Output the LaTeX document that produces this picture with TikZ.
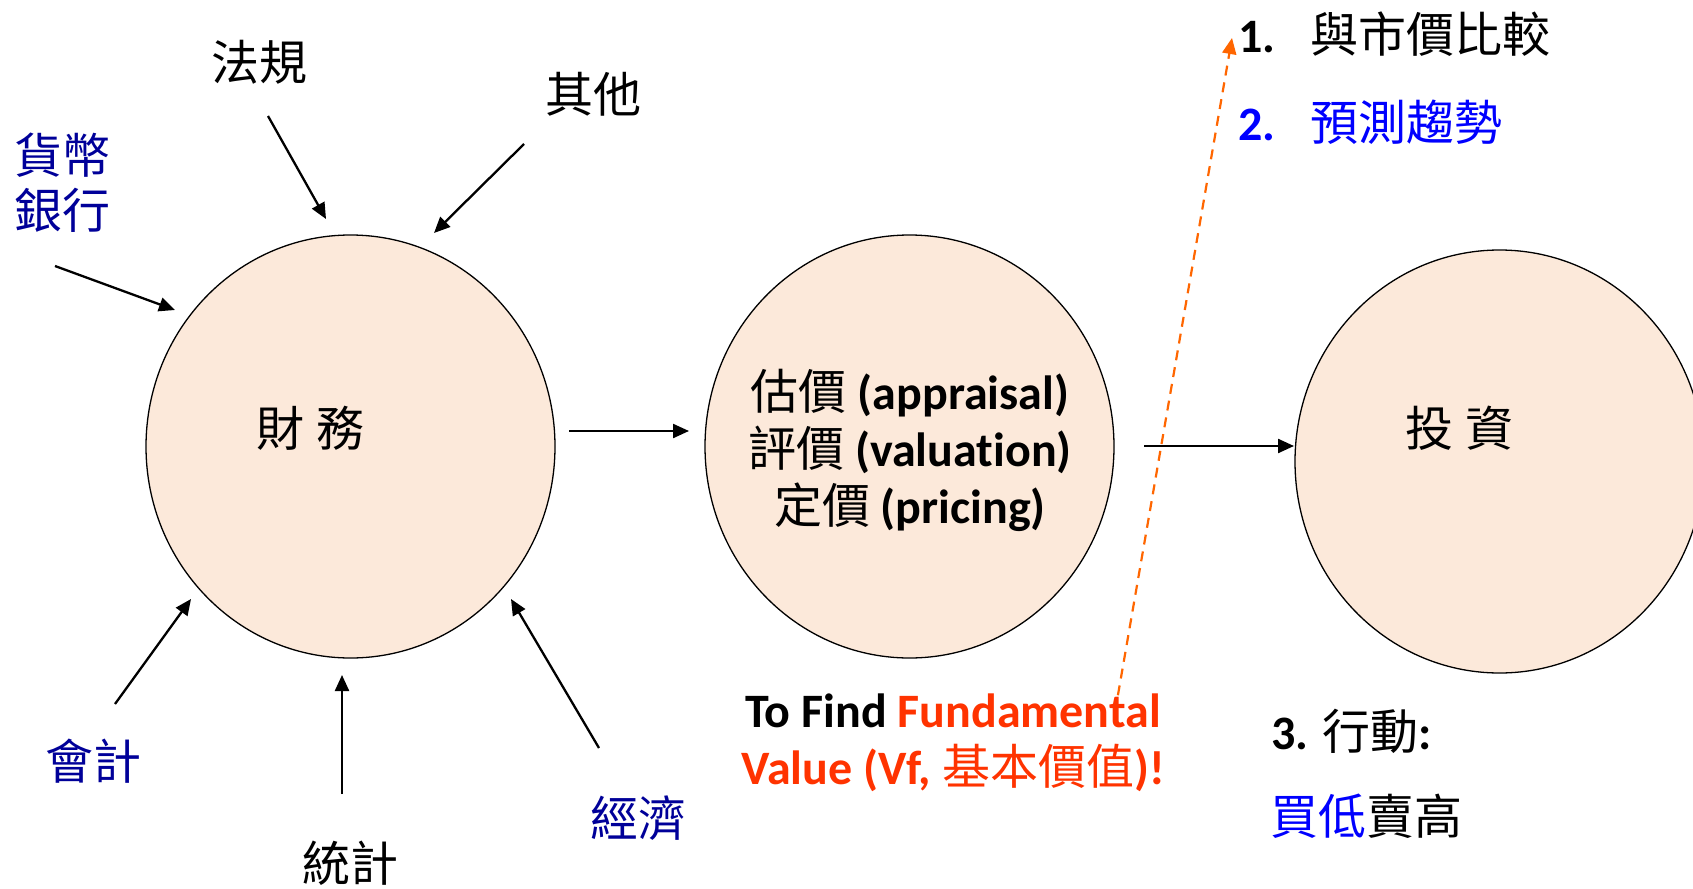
\documentclass[tikz,border=0pt]{standalone}
\usepackage{fontspec}
\setmainfont{Carlito}[Ligatures=NoCommon]
\newfontfamily\cjk{Noto Sans CJK TC}
\usetikzlibrary{arrows.meta,shapes.geometric}
\definecolor{peach}{RGB}{252,233,218}
\definecolor{navy}{RGB}{0,0,153}
\definecolor{vblue}{RGB}{0,0,255}
\definecolor{ored}{RGB}{255,51,0}
\definecolor{dorange}{RGB}{255,102,0}
\begin{document}
\begin{tikzpicture}[x=1pt,y=-1pt,
  bubble/.style={ellipse,draw=black,line width=1.3pt,fill=peach,minimum width=409pt,minimum height=423pt,inner sep=0pt},
  txt/.style={inner sep=0pt,anchor=base west,font=\fontsize{48}{57}\selectfont},
  blocktxt/.style={inner sep=0pt,align=center,font=\fontsize{48}{57}\selectfont},
  feed/.style={draw=black,line width=2.3pt,-{Triangle[length=16pt,width=14pt]}},
  hint/.style={draw=dorange,line width=2.2pt,dash pattern=on 10pt off 7pt,-{Triangle[length=16pt,width=14pt]}}
]
\clip (0,0) rectangle (1693,888);
\fill[white] (0,0) rectangle (1693,888);

% bubbles
\node[bubble] (c1) at (350.5,446.5) {};
\node[bubble] (c2) at (909.5,446.5) {};
\node[bubble] (c3) at (1499.5,461.5) {};

% texts in bubbles
\node[txt] (t1) at (256,446) {\cjk 財\hspace{12pt}務};
\node[txt] (t3) at (1405,446) {\cjk 投\hspace{12pt}資};
\node[blocktxt] (t2) at (910,450) {{\cjk 估價} \textbf{(appraisal)}\\{\cjk 評價} \textbf{(valuation)}\\{\cjk 定價} \textbf{(pricing)}};

% surrounding labels
\node[txt] (fagui) at (211,81) {\cjk 法規};
\node[txt] (qita) at (545,113) {\cjk 其他};
\node[txt,text=navy,align=left,anchor=north west] (huobi) at (14,133) {\cjk 貨幣\\[-2pt]\cjk 銀行};
\node[txt,text=navy] (kuaiji) at (45,779) {\cjk 會計};
\node[txt] (tongji) at (302,881) {\cjk 統計};
\node[txt,text=navy] (jingji) at (590,836) {\cjk 經濟};

% arrow end points
\coordinate (a1s) at (55,266);   \coordinate (a1e) at (175,310);
\coordinate (a2s) at (268,116);  \coordinate (a2e) at (326,219);
\coordinate (a3s) at (524,144);  \coordinate (a3e) at (434,233);
\coordinate (a4s) at (115,704);  \coordinate (a4e) at (191,599);
\coordinate (a5s) at (342,794);  \coordinate (a5e) at (342,675);
\coordinate (a6s) at (599,748);  \coordinate (a6e) at (511,599);
\coordinate (h1s) at (569,431);  \coordinate (h1e) at (689,431);
\coordinate (h2s) at (1144,446); \coordinate (h2e) at (1294,446);
\coordinate (ds) at (1115,712);  \coordinate (de) at (1232,38);

\draw[feed] (a1s) -- (a1e);
\draw[feed] (a2s) -- (a2e);
\draw[feed] (a3s) -- (a3e);
\draw[feed] (a4s) -- (a4e);
\draw[feed] (a5s) -- (a5e);
\draw[feed] (a6s) -- (a6e);
\draw[feed] (h1s) -- (h1e);
\draw[feed] (h2s) -- (h2e);
\draw[hint] (ds) -- (de);

% bottom middle text
\node[blocktxt] (fv) at (953,743) {\textbf{To Find \textcolor{ored}{Fundamental}}\\\textcolor{ored}{\textbf{Value (Vf, }{\cjk 基本價值}\textbf{)!}}};

% right texts
\node[txt] (l1) at (1238,53) {\textbf{1.}\hspace{35pt}{\cjk 與市價比較}};
\node[txt,text=vblue] (l2) at (1238,140) {\textbf{2.}\hspace{35pt}{\cjk 預測趨勢}};
\node[txt] (l3) at (1271,749) {\textbf{3.} {\cjk 行動}\textbf{:}};
\node[txt] (l4) at (1270,834) {\textcolor{vblue}{\cjk 買低}{\cjk 賣高}};
\end{tikzpicture}
\end{document}
